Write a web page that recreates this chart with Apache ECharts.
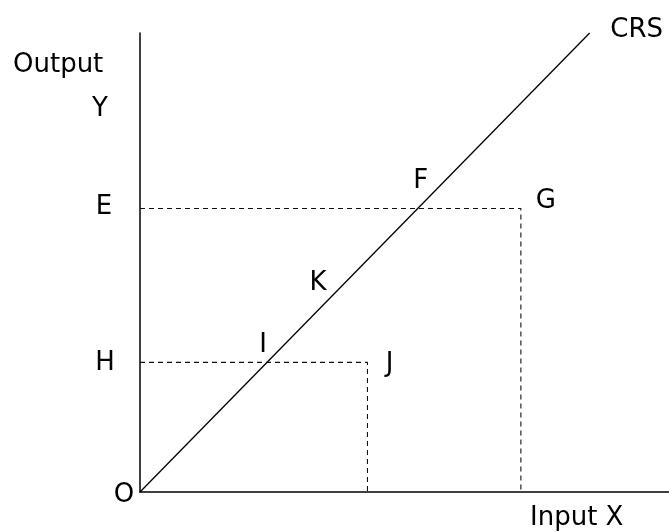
<!DOCTYPE html>
<html>
<head>
<meta charset="utf-8">
<script src="https://cdn.jsdelivr.net/npm/echarts@6/dist/echarts.min.js"></script>
<style>
  html, body { margin: 0; padding: 0; background: #fff; }
  #chart { width: 669px; height: 532px; }
</style>
</head>
<body>
<div id="chart"></div>
<script>
// CRS ray: from origin to the top of the chart
const crsLine = [[0, 0], [85, 85]];
// levels
const outputE = 52.5;
const outputH = 24;
const inputG = 72;
const inputJ = 43;
const boxEG = [[0, outputE], [inputG, outputE], [inputG, 0]];
const boxHJ = [[0, outputH], [inputJ, outputH], [inputJ, 0]];
// labelled points
const pointNames = ['O', 'I', 'K', 'F', 'E', 'H', 'G', 'J', 'CRS'];
const pointXY = [[0, 0], [outputH, outputH], [38, 38], [outputE, outputE],
  [0, outputE], [0, outputH], [inputG, outputE], [inputJ, outputH], [85, 85]];

// label nudges, px
const nudge = {
  O: [-16, 3], I: [-4, -17], K: [-23, -4], F: [3, -27],
  E: [-36, -1], H: [-35, 1], G: [25, -7], J: [22, 2], CRS: [47, -3]
};

const font = '"DejaVu Sans", sans-serif';

var myChart = echarts.init(document.getElementById('chart'));

const option = {
  animation: false,
  grid: { left: 140, right: 0, top: 33, bottom: 40 },
  xAxis: {
    type: 'value', min: 0, max: 100,
    axisLine: { show: true, lineStyle: { color: '#000', width: 1.5 } },
    axisTick: { show: false }, axisLabel: { show: false }, splitLine: { show: false }
  },
  yAxis: {
    type: 'value', min: 0, max: 85,
    axisLine: { show: true, lineStyle: { color: '#000', width: 1.5 } },
    axisTick: { show: false }, axisLabel: { show: false }, splitLine: { show: false }
  },
  graphic: [
    { type: 'text', left: 13, top: 52, style: { text: 'Output', font: '26px ' + font, fill: '#000' } },
    { type: 'text', left: 92, top: 96, style: { text: 'Y', font: '26px ' + font, fill: '#000' } },
    { type: 'text', left: 530, top: 505, style: { text: 'Input X', font: '26px ' + font, fill: '#000' } }
  ],
  series: [
    {
      type: 'line', data: crsLine, symbol: 'none',
      lineStyle: { color: '#000', width: 1.3 }
    },
    {
      type: 'line', data: boxEG, symbol: 'none',
      lineStyle: { color: '#111', width: 1.1, type: [5, 4] }
    },
    {
      type: 'line', data: boxHJ, symbol: 'none',
      lineStyle: { color: '#111', width: 1.1, type: [5, 4] }
    },
    {
      type: 'scatter', symbolSize: 0, clip: false, silent: true,
      itemStyle: { color: '#000', opacity: 1 },
      data: pointNames.map((n, i) => ({
        value: pointXY[i], name: n,
        label: {
          show: true, position: 'inside', formatter: n, offset: nudge[n],
          fontFamily: font, fontSize: 26, color: '#000',
          textBorderWidth: 0, textBorderColor: 'transparent'
        }
      }))
    }
  ]
};

myChart.setOption(option);
</script>
</body>
</html>
